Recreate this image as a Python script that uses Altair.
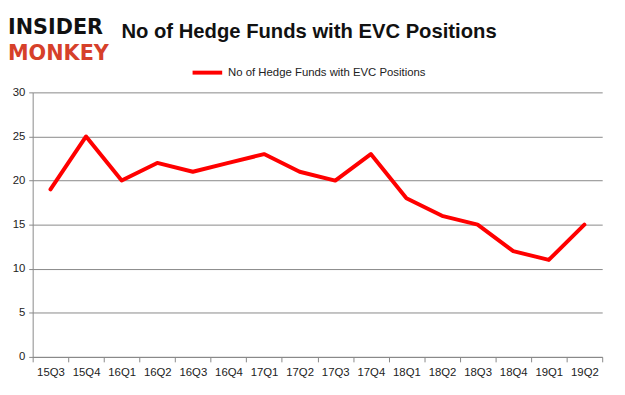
import altair as alt
import pandas as pd

quarters = ["15Q3", "15Q4", "16Q1", "16Q2", "16Q3", "16Q4", "17Q1", "17Q2",
            "17Q3", "17Q4", "18Q1", "18Q2", "18Q3", "18Q4", "19Q1", "19Q2"]
funds = [19, 25, 20, 22, 21, 22, 23, 21, 20, 23, 18, 16, 15, 12, 11, 15]
series_name = "No of Hedge Funds with EVC Positions"
y_ticks = [0, 5, 10, 15, 20, 25, 30]

df = pd.DataFrame({"quarter": quarters, "funds": funds, "series": [series_name] * len(quarters)})

GRAY = "#888888"
FONT = "Liberation Sans"

line = alt.Chart(df).mark_line(strokeWidth=4, strokeJoin="round", strokeCap="round").encode(
    x=alt.X("quarter:N", sort=quarters, bandPosition=0.5,
            scale=alt.Scale(type="band", paddingInner=0, paddingOuter=0),
            axis=alt.Axis(title=None, labelAngle=0, tickBand="extent", grid=False,
                          domainColor=GRAY, tickColor=GRAY, tickSize=5,
                          labelFontSize=11.5, labelColor="#222222", labelFont=FONT, labelPadding=5)),
    y=alt.Y("funds:Q", scale=alt.Scale(domain=[0, 30], nice=False),
            axis=alt.Axis(title=None, values=y_ticks, grid=True, gridColor=GRAY,
                          domainColor=GRAY, tickColor=GRAY, tickSize=4,
                          labelFontSize=11.5, labelColor="#222222", labelFont=FONT, labelPadding=4)),
    color=alt.Color("series:N", scale=alt.Scale(range=["#ff0000"]),
                    legend=alt.Legend(title=None, orient="none", legendX=160, legendY=-37,
                                      symbolType="stroke", symbolStrokeWidth=4, symbolSize=900,
                                      labelFontSize=11.5, labelFont=FONT, labelColor="#222222",
                                      labelOffset=4, labelLimit=400)),
)

title = alt.Chart(pd.DataFrame({"t": [series_name]})).mark_text(
    fontSize=20.5, fontWeight="bold", font=FONT, align="center", baseline="alphabetic", color="#111111"
).encode(x=alt.value(280), y=alt.value(-55), text="t:N")

logo1 = alt.Chart(pd.DataFrame({"t": ["INSIDER"]})).mark_text(
    fontSize=21, fontWeight="bold", font="DejaVu Sans", align="left", baseline="alphabetic", color="#111111"
).encode(x=alt.value(-25), y=alt.value(-59), text="t:N")

logo2 = alt.Chart(pd.DataFrame({"t": ["MONKEY"]})).mark_text(
    fontSize=21, fontWeight="bold", font="DejaVu Sans", align="left", baseline="alphabetic", color="#d6402a"
).encode(x=alt.value(-25), y=alt.value(-33), text="t:N")

chart = alt.layer(line, title, logo1, logo2).properties(
    width=577, height=268,
    autosize=alt.AutoSizeParams(type="none"),
    padding={"left": 25, "top": 83, "right": 15, "bottom": 28},
).configure_view(stroke=None)

chart.save("out.html", embed_options={"renderer": "svg", "actions": False})
